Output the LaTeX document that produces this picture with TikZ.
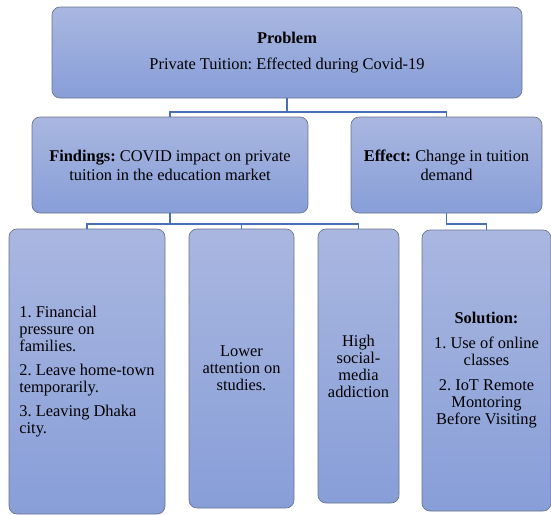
\documentclass[tikz,border=0pt]{standalone}
\usepackage{fontspec}
\setmainfont{Liberation Serif}

\definecolor{boxtop}{RGB}{169,183,224}
\definecolor{boxbot}{RGB}{136,158,216}
\definecolor{boxline}{RGB}{104,114,140}
\definecolor{linkblue}{RGB}{72,112,182}

\tikzset{every picture/.style={line width=0.75pt}}
\tikzset{
  cbox/.style={draw=boxline, line width=0.5pt, rounded corners=6pt, top color=boxtop, bottom color=boxbot,
    inner sep=2pt, align=center, font=\frenchspacing\fontsize{12.3}{12.75}\selectfont},
  widebox/.style={cbox, font=\frenchspacing\fontsize{12.3}{14.25}\selectfont},
  link/.style={draw=linkblue, line width=1.3pt}
}

\begin{document}
\begin{tikzpicture}[x=0.75pt,y=0.75pt,yscale=-1,xscale=1]
		\useasboundingbox (0,0) rectangle (551,515); %set diagram area 551 x 515

		%Shape: Rounded Rect [problem]
		\node (prob) [widebox, minimum width=352.5pt, minimum height=68.25pt] at (287,52.5) {\textbf{Problem}\\[5pt]Private Tuition: Effected during Covid-19};
		%Shape: Rounded Rect [findings]
		\node (find) [widebox, minimum width=207pt, minimum height=72pt] at (170,165) {\textbf{Findings:} COVID impact on private\\tuition in the education market};
		%Shape: Rounded Rect [effect]
		\node (eff) [widebox, minimum width=143.25pt, minimum height=72pt] at (446.5,165) {\textbf{Effect:} Change in tuition\\demand};

		%Shape: Rounded Rect [reasons]
		\node (rsn) [cbox, minimum width=117pt, minimum height=213.75pt, align=left] at (87,371.5) {%
			1. Financial\\pressure on\\families.\\[5.25pt]
			2. Leave home-town\\temporarily.\\[5.25pt]
			3. Leaving Dhaka\\city.};
		%Shape: Rounded Rect [attention]
		\node (attn) [cbox, minimum width=78.75pt, minimum height=209.25pt] at (241.5,368.5) {Lower\\attention on\\studies.};
		%Shape: Rounded Rect [social media]
		\node (smed) [cbox, minimum width=60.75pt, minimum height=205.5pt] at (358.5,366) {High\\social-\\media\\addiction};
		%Shape: Rounded Rect [solution]
		\node (sol) [cbox, minimum width=96.75pt, minimum height=210.75pt] at (486.5,370.5) {\textbf{Solution:}\\[6pt]1. Use of online\\classes\\[6pt]2. IoT Remote\\Montoring\\Before Visiting};

		% Connectors
		\draw [link] (prob.south) -- ++(0,14) -| (find.north);
		\draw [link] (prob.south) -- ++(0,14) -| (eff.north);
		\draw [link] (find.south) -- ++(0,11) -| (rsn.north);
		\draw [link] (find.south) -- ++(0,11) -| (attn.north);
		\draw [link] (find.south) -- ++(0,11) -| (smed.north);
		\draw [link] (eff.south) -- ++(0,11) -| (sol.north);

	\end{tikzpicture}
\end{document}
